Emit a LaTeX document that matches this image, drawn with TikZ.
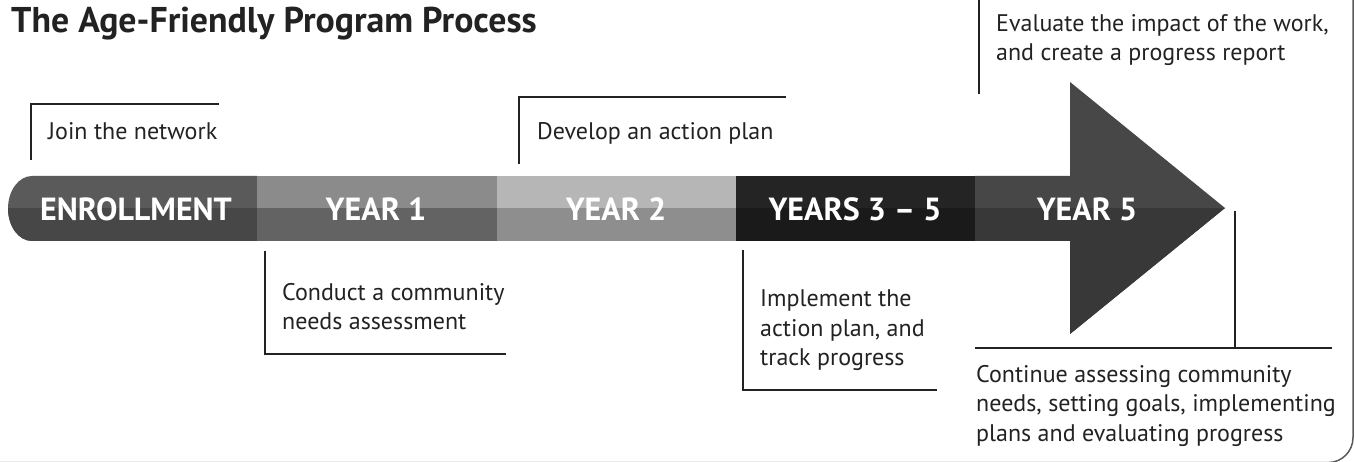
\documentclass[tikz,border=0pt]{standalone}
\usepackage{fontspec}
\setmainfont{PT Sans}

\definecolor{inkgray}{HTML}{222222}
\definecolor{framegray}{HTML}{5A5A5A}
\definecolor{enrolltop}{HTML}{5A5A5A}
\definecolor{enrollbot}{HTML}{474747}
\definecolor{yearonetop}{HTML}{8B8B8B}
\definecolor{yearonebot}{HTML}{636363}
\definecolor{yeartwotop}{HTML}{B6B6B6}
\definecolor{yeartwobot}{HTML}{8E8E8E}
\definecolor{yearsmidtop}{HTML}{242424}
\definecolor{yearsmidbot}{HTML}{1A1A1A}
\definecolor{yearfivetop}{HTML}{474747}
\definecolor{yearfivebot}{HTML}{383838}

\begin{document}
\begin{tikzpicture}[x=1pt,y=-1pt,
        bracket/.style={draw=inkgray,line width=2pt},
        note/.style={anchor=base west,inner sep=0pt,align=left,text=inkgray,
            font=\fontsize{24}{29.5}\selectfont},
        stage/.style={inner sep=0pt,text=white,font=\bfseries\fontsize{32}{32}\selectfont}]
    \useasboundingbox (0,0) rectangle (1355,462);

    % frame
    \draw[framegray,line width=1.5pt,rounded corners=25pt] (1353,-2) -- (1353,462.6) -- (-2,462.6);

    % title
    \node[anchor=base west,inner sep=0pt,text=inkgray,font=\bfseries\fontsize{35.8}{36}\selectfont]
        (title) at (11,33) {The Age-Friendly Program Process};

    % timeline bar, upper half
    \fill[enrolltop] (257,176) -- (32,176) arc[start angle=270,end angle=90,x radius=24,y radius=32.5] -- (257,241) -- cycle;
    \fill[yearonetop] (257,176) rectangle (497,241);
    \fill[yeartwotop] (497,176) rectangle (736,241);
    \fill[yearsmidtop] (736,176) rectangle (975,241);
    \fill[yearfivetop] (975,176) -- (1070,176) -- (1070,82) -- (1225,208) -- (1070,334) -- (1070,241) -- (975,241) -- cycle;
    % timeline bar, lower half
    \begin{scope}
        \clip (0,208.5) rectangle (1355,462);
        \fill[enrollbot] (257,176) -- (32,176) arc[start angle=270,end angle=90,x radius=24,y radius=32.5] -- (257,241) -- cycle;
        \fill[yearonebot] (257,176) rectangle (497,241);
        \fill[yeartwobot] (497,176) rectangle (736,241);
        \fill[yearsmidbot] (736,176) rectangle (975,241);
        \fill[yearfivebot] (975,176) -- (1070,176) -- (1070,82) -- (1225,208) -- (1070,334) -- (1070,241) -- (975,241) -- cycle;
    \end{scope}

    % stages
    \node[stage] (enroll) at (136,209) {ENROLLMENT};
    \node[stage] (yearone) at (376,209) {YEAR 1};
    \node[stage] (yeartwo) at (616,209) {YEAR 2};
    \node[stage] (yearsmid) at (855,209) {YEARS 3 – 5};
    \node[stage] (yearfive) at (1087,209) {YEAR 5};

    % notes (base = last line)
    \node[note] (join) at (48,140) {Join the network};
    \node[note] (assess) at (282,330) {Conduct a community\\needs assessment};
    \node[note] (plan) at (537,140) {Develop an action plan};
    \node[note] (implement) at (760,366) {Implement the\\action plan, and\\track progress};
    \node[note] (evaluate) at (996,61) {Evaluate the impact of the work,\\and create a progress report};
    \node[note] (continue) at (976,441) {Continue assessing community\\needs, setting goals, implementing\\plans and evaluating progress};

    % brackets
    \draw[bracket] (31,160) -- (31,104) -- (219,104);
    \draw[bracket] (265,251) -- (265,354) -- (506,354);
    \draw[bracket] (519,164) -- (519,97) -- (786,97);
    \draw[bracket] (743,250) -- (743,390) -- (937,390);
    \draw[bracket] (979,-2) -- (979,94);
    \draw[bracket] (1235,211) -- (1235,348);
    \draw[bracket] (975,348) -- (1332,348);
\end{tikzpicture}
\end{document}
